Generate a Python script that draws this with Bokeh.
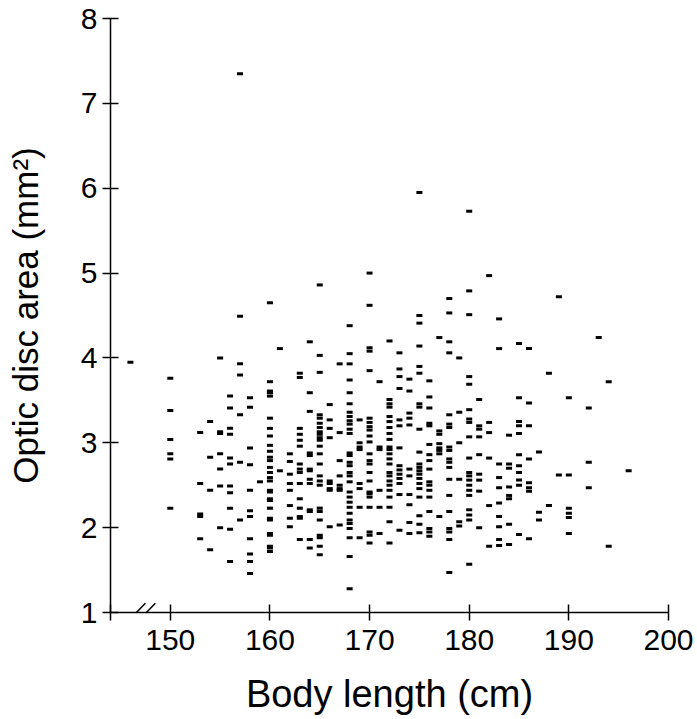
from bokeh.plotting import figure
from bokeh.models import FixedTicker, Range1d, Arrow, ColumnDataSource
from bokeh.embed import file_html
from bokeh.resources import INLINE

# ---- data: optic disc area (mm^2) read per body length (cm) ----
area_146 = [3.95]
area_150 = [3.76, 3.38, 3.04, 2.87, 2.81, 2.23]
area_153 = [3.12, 2.52, 2.16, 2.13, 1.87]
area_154 = [3.25, 2.83, 2.44, 1.74]
area_155 = [4.00, 3.13, 3.11, 2.87, 2.69, 2.49, 2.00]
area_156 = [3.55, 3.41, 3.17, 3.10, 2.82, 2.75, 2.49, 2.41, 2.23, 1.98, 1.60]
area_157 = [7.35, 4.49, 3.93, 3.80, 3.33, 2.77, 2.09]
area_158 = [3.53, 3.42, 2.94, 2.74, 2.44, 2.20, 2.13, 1.87, 1.69, 1.60, 1.46]
area_159 = [2.54]
area_160 = [4.65, 3.72, 3.61, 3.59, 3.55, 3.29, 3.17, 3.08, 2.97, 2.90, 2.83, 2.79, 2.71,
            2.65, 2.59, 2.55, 2.44, 2.42, 2.34, 2.32, 2.23, 2.11, 2.09, 1.93, 1.91, 1.78,
            1.76, 1.72]
area_161 = [4.11, 2.67]
area_162 = [2.87, 2.78, 2.63, 2.52, 2.44, 2.26, 2.11, 2.01]
area_163 = [3.82, 3.77, 3.17, 3.10, 3.03, 2.96, 2.75, 2.69, 2.65, 2.52, 2.34, 2.23, 2.13,
            2.11, 1.86]
area_164 = [4.19, 3.59, 3.37, 2.88, 2.85, 2.69, 2.67, 2.57, 2.52, 2.21, 2.19, 1.86, 1.76]
area_165 = [4.86, 4.03, 3.83, 3.33, 3.29, 3.23, 3.18, 3.13, 3.10, 3.06, 3.03, 2.96, 2.87,
            2.75, 2.61, 2.55, 2.50, 2.23, 2.19, 2.09, 1.91, 1.88, 1.78, 1.68]
area_166 = [3.45, 3.27, 3.17, 3.06, 2.55, 2.52, 2.46, 2.44, 2.01]
area_167 = [3.93, 3.12, 2.79, 2.61, 2.50, 2.46, 2.44, 2.03]
area_168 = [4.38, 4.05, 3.93, 3.74, 3.59, 3.46, 3.36, 3.31, 3.26, 3.22, 3.16, 3.11, 2.88,
            2.85, 2.77, 2.73, 2.65, 2.61, 2.54, 2.42, 2.36, 2.30, 2.24, 2.17, 2.09, 2.05,
            1.99, 1.88, 1.66, 1.28]
area_169 = [3.27, 3.00, 2.95, 2.92, 2.52, 2.46, 2.24, 1.88]
area_170 = [5.00, 4.62, 4.12, 4.08, 3.85, 3.29, 3.24, 3.19, 3.15, 3.08, 3.01, 2.87, 2.79,
            2.75, 2.65, 2.55, 2.42, 2.40, 2.36, 2.24, 1.95, 1.91, 1.82]
area_171 = [3.72, 2.95, 2.92, 2.44, 2.24, 1.93]
area_172 = [4.20, 3.51, 3.46, 3.42, 3.31, 3.25, 3.18, 3.11, 3.04, 2.95, 2.92, 2.87, 2.81,
            2.75, 2.65, 2.61, 2.55, 2.50, 2.44, 2.36, 2.24, 2.07, 1.82]
area_173 = [4.06, 3.87, 3.78, 3.64, 3.27, 3.20, 2.94, 2.73, 2.68, 2.63, 2.58, 2.52, 2.39, 1.97]
area_174 = [3.75, 3.61, 3.35, 3.29, 3.21, 2.69, 2.61, 2.39, 2.27, 2.06, 1.93]
area_175 = [5.95, 4.50, 4.41, 4.14, 3.90, 3.82, 3.46, 3.42, 3.16, 2.89, 2.75, 2.71, 2.67,
            2.63, 2.58, 2.52, 2.46, 2.36, 2.14, 2.04, 1.94]
area_176 = [3.73, 3.54, 3.41, 3.23, 3.20, 2.98, 2.86, 2.79, 2.69, 2.54, 2.50, 2.44, 2.36,
            2.19, 1.99, 1.95, 1.90]
area_177 = [4.24, 3.14, 3.10, 2.99, 2.94, 2.91, 2.87, 2.13]
area_178 = [4.70, 4.53, 4.19, 4.06, 3.33, 3.22, 3.18, 2.95, 2.91, 2.81, 2.77, 2.71, 2.57,
            2.38, 2.19, 1.99, 1.95, 1.86, 1.47]
area_179 = [4.00, 3.36, 3.00, 2.57, 2.07, 2.02]
area_180 = [5.73, 4.79, 4.51, 3.78, 3.69, 3.39, 3.28, 3.24, 3.07, 2.82, 2.65, 2.61, 2.56,
            2.50, 2.44, 2.38, 2.21, 2.15, 2.09, 1.57]
area_181 = [3.51, 3.20, 3.16, 3.07, 2.86, 2.63, 2.56, 2.43, 2.00]
area_182 = [4.97, 3.24, 3.12, 2.82, 2.26, 1.78]
area_183 = [4.46, 4.11, 2.75, 2.59, 2.47, 2.29, 2.13, 2.01, 1.86, 1.79]
area_184 = [3.09, 2.75, 2.70, 2.48, 2.38, 2.34, 2.04, 1.80]
area_185 = [4.17, 3.53, 3.25, 3.20, 3.11, 2.86, 2.73, 2.65, 2.56, 2.50, 1.92]
area_186 = [4.11, 3.47, 3.20, 2.81, 2.53, 2.47, 2.43, 1.87]
area_187 = [2.89, 2.18, 2.09]
area_188 = [3.82, 2.26]
area_189 = [4.72, 2.62]
area_190 = [3.53, 2.62, 2.23, 2.17, 2.12, 1.93]
area_192 = [3.41, 2.77, 2.47]
area_193 = [4.24]
area_194 = [3.72, 1.78]
area_196 = [2.67]

body_lengths = [146, 150, 153, 154, 155, 156, 157, 158, 159, 160, 161, 162, 163, 164, 165,
                166, 167, 168, 169, 170, 171, 172, 173, 174, 175, 176, 177, 178, 179, 180,
                181, 182, 183, 184, 185, 186, 187, 188, 189, 190, 192, 193, 194, 196]
area_columns = [area_146, area_150, area_153, area_154, area_155, area_156, area_157,
                area_158, area_159, area_160, area_161, area_162, area_163, area_164,
                area_165, area_166, area_167, area_168, area_169, area_170, area_171,
                area_172, area_173, area_174, area_175, area_176, area_177, area_178,
                area_179, area_180, area_181, area_182, area_183, area_184, area_185,
                area_186, area_187, area_188, area_189, area_190, area_192, area_193,
                area_194, area_196]

x_ticks = [144, 150, 160, 170, 180, 190, 200]
x_tick_labels = {144: ""}
y_ticks = [1, 2, 3, 4, 5, 6, 7, 8]
x_limits = (144, 200)
y_limits = (1, 8)
break_at = 147.1  # axis-break marker position on the x axis

x_title = "Body length (cm)"
y_title = "Optic disc area (mm²)"

xs, ys = [], []
for bl, col in zip(body_lengths, area_columns):
    for a in col:
        xs.append(bl)
        ys.append(a)
src = ColumnDataSource(dict(x=xs, y=ys))

FONT = "Liberation Sans"

p = figure(width=697, height=719, x_range=Range1d(*x_limits), y_range=Range1d(*y_limits),
           output_backend="svg", toolbar_location=None,
           min_border_left=110, min_border_right=29, min_border_top=18, min_border_bottom=107)
p.outline_line_color = None
p.xgrid.visible = False
p.ygrid.visible = False
p.background_fill_color = "white"
p.border_fill_color = "white"

p.rect(x="x", y="y", width=6, height=3, width_units="screen", height_units="screen",
       source=src, fill_color="black", line_color=None)

for ax in (p.xaxis[0], p.yaxis[0]):
    ax.axis_line_width = 1.5
    ax.axis_line_color = "black"
    ax.major_tick_line_width = 1.5
    ax.major_tick_line_color = "black"
    ax.major_tick_in = 8
    ax.major_tick_out = 8
    ax.minor_tick_line_color = None
    ax.major_label_text_font = FONT
    ax.major_label_text_font_size = "30px"
    ax.major_label_text_color = "black"
    ax.axis_label_text_font = FONT
    ax.axis_label_text_font_style = "normal"
    ax.axis_label_text_color = "black"

p.xaxis.ticker = FixedTicker(ticks=x_ticks)
p.xaxis.major_label_overrides = x_tick_labels
p.xaxis.major_label_standoff = 9
p.xaxis.axis_label = x_title
p.xaxis.axis_label_text_font_size = "38px"
p.xaxis.axis_label_standoff = 20

p.yaxis.ticker = FixedTicker(ticks=y_ticks)
p.yaxis.major_label_standoff = 5
p.yaxis.axis_label = y_title
p.yaxis.axis_label_text_font_size = "35px"
p.yaxis.axis_label_standoff = 33

# axis-break marks "//"
dx, dy = 0.9, 0.11
for off in (-0.5, 0.5):
    p.add_layout(Arrow(end=None, x_start=break_at + off - dx, y_start=y_limits[0] - dy,
                       x_end=break_at + off + dx, y_end=y_limits[0] + dy,
                       line_width=1.5, line_color="black"))

open("out.html", "w").write(file_html(p, INLINE))
